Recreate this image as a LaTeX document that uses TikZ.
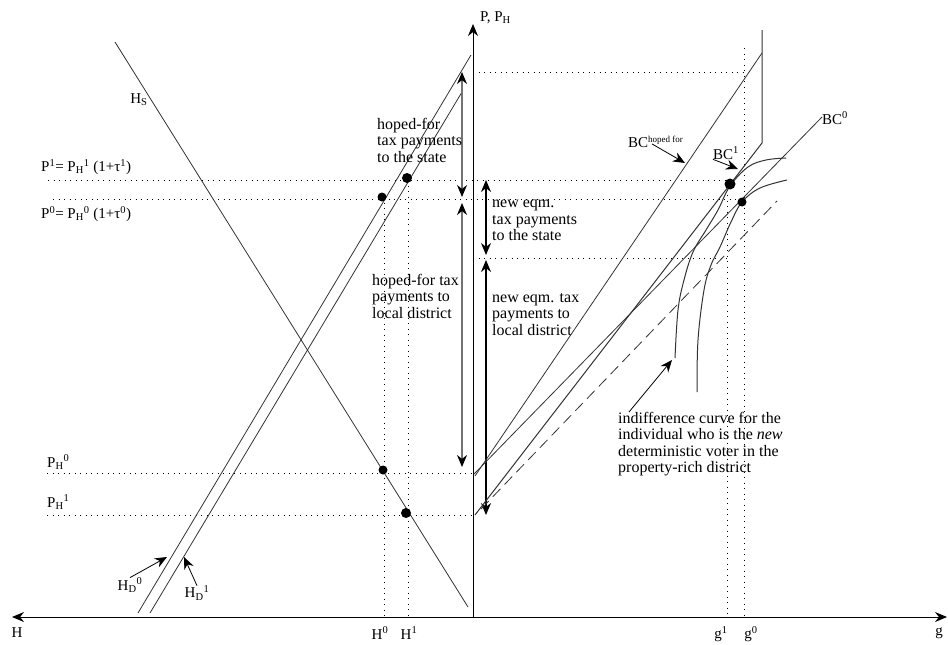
\documentclass[tikz,border=0pt]{standalone}
\usepackage{fontspec}
\setmainfont{Liberation Serif}
\usetikzlibrary{arrows.meta}

\begin{document}
\begin{tikzpicture}[
  x=1pt, y=-1pt,
  font=\fontsize{15}{16.5}\selectfont,
  >={Stealth[length=12pt,width=10pt]},
  lbl/.style={inner sep=0pt, align=left},
  txt/.style={inner sep=0pt, align=left, anchor=north west, font=\fontsize{16}{16.5}\selectfont},
  axisline/.style={line width=1pt},
  guideline/.style={line width=0.9pt, dash pattern=on 1.2pt off 4.3pt},
  gline/.style={line width=0.8pt, black!80},
  gaparrow/.style={line width=1.1pt, <->},
  hopearrow/.style={line width=1.1pt, black!55,
    {Stealth[length=12pt,width=10pt,color=black]}-{Stealth[length=12pt,width=10pt,color=black]}},
  pointer/.style={line width=0.8pt, ->},
  blob/.style={circle, fill, inner sep=0pt, minimum size=#1},
  blob/.default=9pt
]
\useasboundingbox (0,0) rectangle (948,645);

% Axes
\coordinate (O) at (473,617);
\coordinate (Hend) at (12,617);
\coordinate (gend) at (947,617);
\coordinate (Ptop) at (473,24);
\draw[axisline, <->] (Hend) -- (gend);
\draw[axisline, ->] (O) -- (Ptop);

\node[lbl] (Ht) at (17,633) {H};
\node[lbl] (gt) at (939,633) {g};
\node[lbl, anchor=west] (Pt) at (480,18) {P, P\textsubscript{H}};

% Price levels
\node[lbl, anchor=west] (P1t) at (41,167) {P\textsuperscript{1}= P\textsubscript{H}\textsuperscript{1} (1+τ\textsuperscript{1})};
\node[lbl, anchor=west] (P0t) at (41,214) {P\textsuperscript{0}= P\textsubscript{H}\textsuperscript{0} (1+τ\textsuperscript{0})};
\node[lbl, anchor=west] (PH0t) at (47,462) {P\textsubscript{H}\textsuperscript{0}};
\node[lbl, anchor=west] (PH1t) at (47,502) {P\textsubscript{H}\textsuperscript{1}};

\draw[guideline] (473,72) -- (744,72);
\draw[guideline] (48,180) -- (730,180);
\draw[guideline] (53,199) -- (742,199);
\draw[guideline] (473,258) -- (727,258);
\draw[guideline] (47,473) -- (473,473);
\draw[guideline] (47,515) -- (473,515);

% Quantities
\node[lbl] (H0t) at (380,633) {H\textsuperscript{0}};
\node[lbl] (H1t) at (409,633) {H\textsuperscript{1}};
\node[lbl] (g1t) at (721,634) {g\textsuperscript{1}};
\node[lbl] (g0t) at (751,634) {g\textsuperscript{0}};

\draw[guideline] (384,197) -- (384,617);
\draw[guideline] (408,180) -- (408,617);
\draw[guideline] (727,184) -- (727,617);
\draw[guideline] (744,48) -- (744,617);

% Housing market
\draw[gline] (115,42) -- (468,607);
\draw[gline] (138,613) -- (471,55);
\draw[gline] (150,613) -- (462,92);
\node[lbl] (HS) at (139,100) {H\textsubscript{S}};
\node[lbl] (HD0) at (130,585) {H\textsubscript{D}\textsuperscript{0}};
\node[lbl] (HD1) at (197,593) {H\textsubscript{D}\textsuperscript{1}};
\coordinate (HD0tip) at (167,557);
\coordinate (HD1tip) at (184,557);
\draw[pointer] (HD0.north) -- (HD0tip);
\draw[pointer] (HD1.north) -- (HD1tip);

\node[blob] (e0) at (382,197) {};
\node[blob=10pt] (e1) at (407,178) {};
\node[blob] (h0) at (383,470) {};
\node[blob=10pt] (h1) at (406,513) {};

% Tax payments
\coordinate (a1) at (462,72);
\coordinate (a2) at (462,197);
\coordinate (a3) at (462,203);
\coordinate (a4) at (462,467);
\coordinate (b1) at (486,180);
\coordinate (b2) at (486,255);
\coordinate (b3) at (486,260);
\coordinate (b4) at (486,515);
\draw[hopearrow] (a1) -- (a2);
\draw[hopearrow] (a3) -- (a4);
\draw[gaparrow] (b1) -- (b2);
\draw[gaparrow] (b3) -- (b4);

\node[txt] (hopeS) at (377,118) {hoped-for\\tax payments\\to the state};
\node[txt] (hopeL) at (372,274) {hoped-for tax\\payments to\\local district};
\node[txt] (newS) at (492,200) {new eqm.\\tax payments\\to the state};
\node[txt] (newL) at (492,293) {new eqm. tax\\payments to\\local district};

% Budget constraints
\draw[gline] (475,476) -- (762,53);
\draw[gline, line width=1pt] (475,515) -- (762,143) -- (762,30);
\draw[gline] (474,474) -- (822,117);
\draw[gline, dash pattern=on 11pt off 6pt] (481,509) -- (777,201);

\node[lbl, anchor=west] (BCh) at (628,142) {BC\raisebox{5pt}{\fontsize{9}{9}\selectfont hoped for}};
\node[lbl, anchor=west] (BC1) at (713,153) {BC\textsuperscript{1}};
\node[lbl, anchor=west] (BC0) at (822,118) {BC\textsuperscript{0}};
\coordinate (BChtip) at (685,163);
\coordinate (BC1tip) at (738,169);
\draw[pointer] ([xshift=24pt,yshift=4pt]BCh.south west) -- (BChtip);
\draw[pointer] (BC1.south west) -- (BC1tip);

% Indifference curves
\draw[gline, line width=1pt] plot[smooth, tension=0.6] coordinates {(675,358) (678,310) (684,280) (693,252) (706,230) (718,210) (730,186) (748,167) (766,160) (786,158)};
\draw[gline, line width=1pt] plot[smooth, tension=0.6] coordinates {(697,392) (698,340) (704,290) (711,265) (720,247) (731,222) (742,202) (760,188) (787,180)};

\node[blob=11pt] (t1) at (730,184) {};
\node[blob] (t0) at (742,202) {};

\node[txt] (ind) at (618,412) {indifference curve for the\\individual who is the \emph{new}\\deterministic voter in the\\property-rich district};
\coordinate (indtip) at (672,360);
\draw[pointer] ([xshift=11pt]ind.north west) -- (indtip);

\end{tikzpicture}
\end{document}
